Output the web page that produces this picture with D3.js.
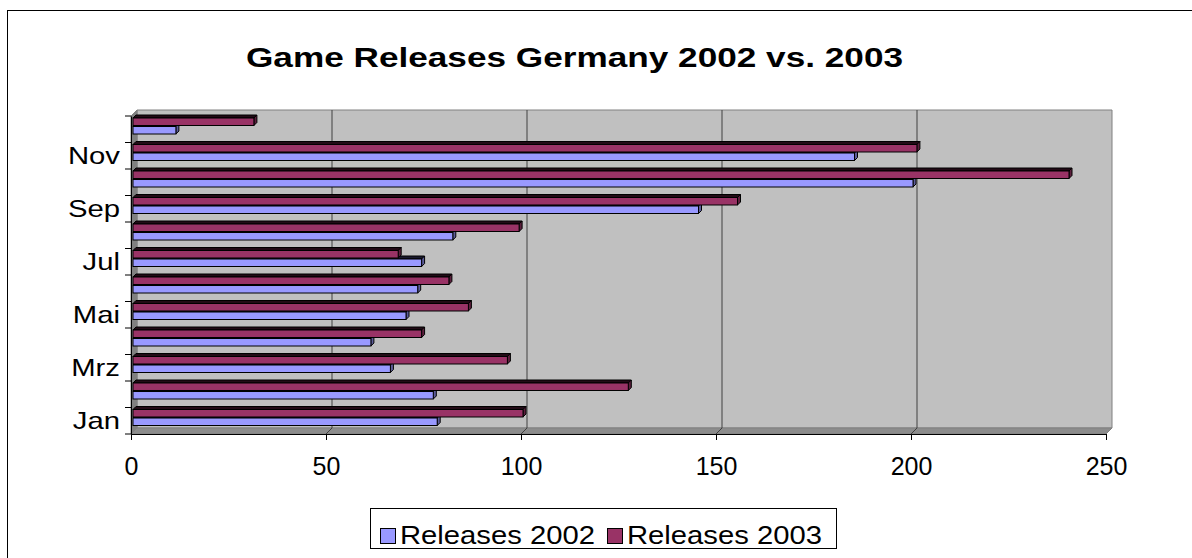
<!DOCTYPE html>
<meta charset="utf-8">
<style>
    body { margin: 0; background: #fff; }
    text { font-family: "Liberation Sans", Arial, sans-serif; fill: #000; }
</style>
<body>
<script src="https://cdn.jsdelivr.net/npm/d3@7"></script>
<script>
    /* data */
    var months = ["Jan", "Feb", "Mrz", "Apr", "Mai", "Jun", "Jul", "Aug", "Sep", "Okt", "Nov", "Dez"];
    var labelled = ["Jan", "Mrz", "Mai", "Jul", "Sep", "Nov"];
    var releases2002 = [78, 77, 66, 61, 70, 73, 74, 82, 145, 200, 185, 11];
    var releases2003 = [100, 127, 96, 74, 86, 81, 68, 99, 155, 240, 201, 31];
    var seriesNames = ["Releases 2003", "Releases 2002"];
    var xTicks = [0, 50, 100, 150, 200, 250];

    var w = 1192, h = 558;
    var depth = 6;          // floor / wall depth
    var barShift = 2;       // bars sit a little behind the front plane
    var barDepth = 3;

    var colors = { "Releases 2002": "#9999ff", "Releases 2003": "#993366" };
    var darker = { "Releases 2002": "#1a1a2e", "Releases 2003": "#220b16" };
    var sides = { "Releases 2002": "#5c5c99", "Releases 2003": "#5c1f3d" };

    var svg = d3.select("body").append("svg")
        .attr("width", w)
        .attr("height", h);

    // chart border
    svg.append("rect")
        .attr("x", 7.5).attr("y", 10.5)
        .attr("width", 1200).attr("height", 600)
        .attr("fill", "#fff").attr("stroke", "#000");

    // title (the original font is drawn wide)
    svg.append("text")
        .attr("x", 246).attr("y", 67)
        .attr("textLength", 657)
        .attr("lengthAdjust", "spacingAndGlyphs")
        .style("font-size", "28px")
        .style("font-weight", "bold")
        .text("Game Releases Germany 2002 vs. 2003");

    /* scales */
    var xScale = d3.scaleLinear().domain([0, 250]).range([131, 1106]);
    var yScale = d3.scaleBand().domain(months).range([434, 116]);
    var sScale = d3.scaleBand().domain(seriesNames).range([4, 20]).paddingInner(0.12);

    var x0 = xScale(0), x1 = xScale(250), yTop = yScale.range()[1], yBot = yScale.range()[0];

    function poly(pts) {
        return "M" + pts.map(function (p) { return p.join(","); }).join("L") + "Z";
    }

    // back wall
    svg.append("path")
        .attr("d", poly([[x0 + depth, yTop - depth], [x1 + depth, yTop - depth], [x1 + depth, yBot - depth], [x0 + depth, yBot - depth]]))
        .attr("fill", "#c0c0c0").attr("stroke", "#808080");

    // left side wall
    svg.append("path")
        .attr("d", poly([[x0, yTop], [x0 + depth, yTop - depth], [x0 + depth, yBot - depth], [x0, yBot]]))
        .attr("fill", "#808080").attr("stroke", "#808080");

    // floor
    svg.append("path")
        .attr("d", poly([[x0, yBot], [x0 + depth, yBot - depth], [x1 + depth, yBot - depth], [x1, yBot]]))
        .attr("fill", "#8c8c8c").attr("stroke", "#808080");

    // gridlines on the back wall and floor
    var grid = svg.append("g");
    grid.selectAll("line.back")
        .data(xTicks.slice(1, -1))
        .enter().append("line")
        .attr("x1", function (d) { return xScale(d) + depth; })
        .attr("x2", function (d) { return xScale(d) + depth; })
        .attr("y1", yTop - depth)
        .attr("y2", yBot - depth)
        .attr("stroke", "#404040");
    grid.selectAll("line.floor")
        .data(xTicks.slice(1, -1))
        .enter().append("line")
        .attr("x1", function (d) { return xScale(d); })
        .attr("x2", function (d) { return xScale(d) + depth; })
        .attr("y1", yBot)
        .attr("y2", yBot - depth)
        .attr("stroke", "#404040");

    /* bars, drawn top row first so lower rows overlap correctly */
    var rows = [];
    months.forEach(function (m, i) {
        rows.push({ month: m, series: "Releases 2003", value: releases2003[i] });
        rows.push({ month: m, series: "Releases 2002", value: releases2002[i] });
    });
    rows.reverse();

    var bars = svg.append("g").selectAll("g")
        .data(rows)
        .enter().append("g");

    function fx(d) { return xScale(0) + barShift; }
    function ex(d) { return xScale(d.value) + barShift; }
    function fy(d) { return yScale(d.month) + sScale(d.series) - barShift; }

    // top face
    bars.append("path")
        .attr("d", function (d) {
            var a = fx(d), b = ex(d), y = fy(d);
            return poly([[a, y], [a + barDepth, y - barDepth], [b + barDepth, y - barDepth], [b, y]]);
        })
        .attr("fill", function (d) { return darker[d.series]; })
        .attr("stroke", "#000");

    // end face
    bars.append("path")
        .attr("d", function (d) {
            var b = ex(d), y = fy(d), bh = sScale.bandwidth();
            return poly([[b, y], [b + barDepth, y - barDepth], [b + barDepth, y + bh - barDepth], [b, y + bh]]);
        })
        .attr("fill", function (d) { return sides[d.series]; })
        .attr("stroke", "#000");

    // front face
    bars.append("rect")
        .attr("x", fx)
        .attr("y", fy)
        .attr("width", function (d) { return ex(d) - fx(d); })
        .attr("height", sScale.bandwidth())
        .attr("fill", function (d) { return colors[d.series]; })
        .attr("stroke", "#000");

    /* axes */
    var xAxis = d3.axisBottom(xScale)
        .tickValues(xTicks)
        .tickSize(6)
        .tickPadding(17);
    var gx = svg.append("g")
        .attr("transform", "translate(0," + yBot + ")")
        .call(xAxis);
    gx.selectAll("text").style("font-size", "25px");

    var yAxis = d3.axisLeft(yScale)
        .tickSize(0)
        .tickPadding(9)
        .tickFormat(function (d) { return labelled.indexOf(d) >= 0 ? d : ""; });
    var gy = svg.append("g")
        .attr("transform", "translate(" + x0 + ",0)")
        .call(yAxis);
    // month labels are drawn wider in the original
    gy.selectAll("text")
        .style("font-size", "24px")
        .attr("x", 0)
        .attr("transform", "translate(-11,1) scale(1.22,1)");

    // category separators on the vertical axis
    var bounds = months.map(function (m) { return yScale(m); }).concat([yBot]);
    gy.selectAll("line.sep")
        .data(bounds)
        .enter().append("line")
        .attr("x1", -6).attr("x2", 0)
        .attr("y1", function (d) { return d; })
        .attr("y2", function (d) { return d; })
        .attr("stroke", "#000");

    gx.selectAll(".domain, line").attr("stroke", "#000");
    gy.select(".domain").attr("stroke", "#000");

    /* legend */
    var legend = svg.append("g");
    legend.append("rect")
        .attr("x", 370.5).attr("y", 508.5)
        .attr("width", 466).attr("height", 40)
        .attr("fill", "#fff").attr("stroke", "#000");

    var legendItems = ["Releases 2002", "Releases 2003"];
    var lx = d3.scalePoint().domain(legendItems).range([380, 607]);
    var item = legend.selectAll("g.item")
        .data(legendItems)
        .enter().append("g")
        .attr("transform", function (d) { return "translate(" + lx(d) + ",528)"; });
    item.append("rect")
        .attr("x", 0.5).attr("y", 0.5)
        .attr("width", 15).attr("height", 15)
        .attr("fill", function (d) { return colors[d]; })
        .attr("stroke", "#000");
    item.append("text")
        .attr("x", 20).attr("y", 16)
        .attr("textLength", 195)
        .attr("lengthAdjust", "spacingAndGlyphs")
        .style("font-size", "25px")
        .text(function (d) { return d; });
</script>
</body>
